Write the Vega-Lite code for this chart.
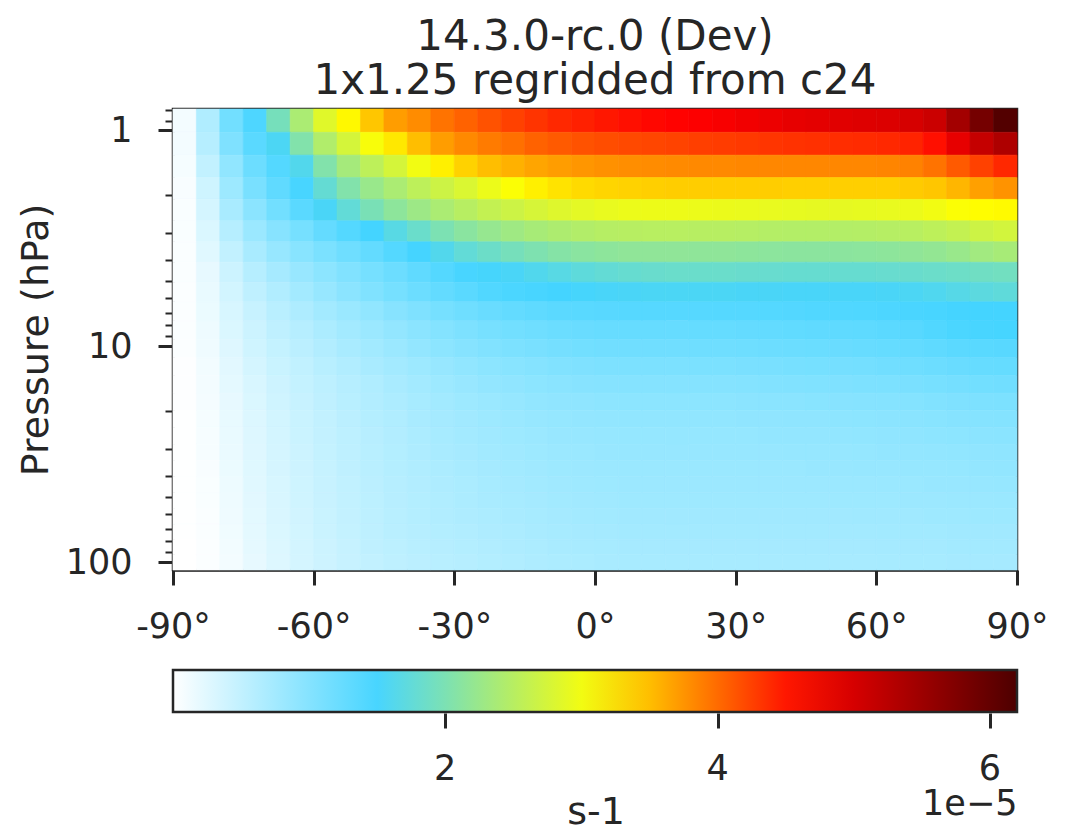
{
"$schema": "https://vega.github.io/schema/vega-lite/v6.json",
"autosize": {"type": "none"},
"padding": {"left": 173, "top": 109, "right": 51, "bottom": 263},
"width": 844,
"height": 461,
"background": "white",
"config": {
  "font": "DejaVu Sans",
  "view": {"stroke": "#262626", "strokeWidth": 2.5},
  "axis": {"labelColor": "#262626", "tickColor": "#262626", "domainColor": "#262626", "titleColor": "#262626", "labelFontSize": 35, "titleFontSize": 38, "titleFontWeight": "normal", "grid": false, "domainWidth": 2.5}
},
"title": {"text": ["14.3.0-rc.0 (Dev)", "1x1.25 regridded from c24"], "fontSize": 42, "fontWeight": "normal", "color": "#262626", "lineHeight": 44, "offset": -27, "baseline": "alphabetic", "anchor": "middle", "frame": "group"},
"datasets": {
"levels": [
{"k":1,"top":0.7951,"bottom":1.0194},{"k":2,"top":1.0194,"bottom":1.3005},{"k":3,"top":1.3005,"bottom":1.6508},{"k":4,"top":1.6508,"bottom":2.085},{"k":5,"top":2.085,"bottom":2.6202},{"k":6,"top":2.6202,"bottom":3.2764},{"k":7,"top":3.2764,"bottom":4.0766},{"k":8,"top":4.0766,"bottom":5.0468},{"k":9,"top":5.0468,"bottom":6.2168},{"k":10,"top":6.2168,"bottom":7.6198},{"k":11,"top":7.6198,"bottom":9.2929},{"k":12,"top":9.2929,"bottom":11.2769},{"k":13,"top":11.2769,"bottom":13.6434},{"k":14,"top":13.6434,"bottom":16.4571},{"k":15,"top":16.4571,"bottom":19.7916},{"k":16,"top":19.7916,"bottom":23.7304},{"k":17,"top":23.7304,"bottom":28.3678},{"k":18,"top":28.3678,"bottom":33.81},{"k":19,"top":33.81,"bottom":40.1754},{"k":20,"top":40.1754,"bottom":47.6439},{"k":21,"top":47.6439,"bottom":56.3879},{"k":22,"top":56.3879,"bottom":66.6034},{"k":23,"top":66.6034,"bottom":78.5123},{"k":24,"top":78.5123,"bottom":92.3657},{"k":25,"top":92.3657,"bottom":108.663}
],
"cells": [
{"lat":-87.5,"k":1,"v":0.1},{"lat":-82.5,"k":1,"v":0.65},{"lat":-77.5,"k":1,"v":1.15},{"lat":-72.5,"k":1,"v":1.45},{"lat":-67.5,"k":1,"v":1.95},{"lat":-62.5,"k":1,"v":2.4},{"lat":-57.5,"k":1,"v":2.85},{"lat":-52.5,"k":1,"v":3.15},{"lat":-47.5,"k":1,"v":3.45},{"lat":-42.5,"k":1,"v":3.7},{"lat":-37.5,"k":1,"v":3.8},{"lat":-32.5,"k":1,"v":3.95},{"lat":-27.5,"k":1,"v":4.05},{"lat":-22.5,"k":1,"v":4.15},{"lat":-17.5,"k":1,"v":4.25},{"lat":-12.5,"k":1,"v":4.33},{"lat":-7.5,"k":1,"v":4.4},{"lat":-2.5,"k":1,"v":4.45},{"lat":2.5,"k":1,"v":4.5},{"lat":7.5,"k":1,"v":4.55},{"lat":12.5,"k":1,"v":4.6},{"lat":17.5,"k":1,"v":4.63},{"lat":22.5,"k":1,"v":4.66},{"lat":27.5,"k":1,"v":4.7},{"lat":32.5,"k":1,"v":4.75},{"lat":37.5,"k":1,"v":4.8},{"lat":42.5,"k":1,"v":4.85},{"lat":47.5,"k":1,"v":4.88},{"lat":52.5,"k":1,"v":4.9},{"lat":57.5,"k":1,"v":4.93},{"lat":62.5,"k":1,"v":4.95},{"lat":67.5,"k":1,"v":5.0},{"lat":72.5,"k":1,"v":5.1},{"lat":77.5,"k":1,"v":5.45},{"lat":82.5,"k":1,"v":5.85},{"lat":87.5,"k":1,"v":6.15},
{"lat":-87.5,"k":2,"v":0.1},{"lat":-82.5,"k":2,"v":0.6},{"lat":-77.5,"k":2,"v":1.05},{"lat":-72.5,"k":2,"v":1.35},{"lat":-67.5,"k":2,"v":1.6},{"lat":-62.5,"k":2,"v":2.05},{"lat":-57.5,"k":2,"v":2.45},{"lat":-52.5,"k":2,"v":2.75},{"lat":-47.5,"k":2,"v":3.05},{"lat":-42.5,"k":2,"v":3.25},{"lat":-37.5,"k":2,"v":3.5},{"lat":-32.5,"k":2,"v":3.7},{"lat":-27.5,"k":2,"v":3.82},{"lat":-22.5,"k":2,"v":3.9},{"lat":-17.5,"k":2,"v":3.97},{"lat":-12.5,"k":2,"v":4.05},{"lat":-7.5,"k":2,"v":4.1},{"lat":-2.5,"k":2,"v":4.15},{"lat":2.5,"k":2,"v":4.18},{"lat":7.5,"k":2,"v":4.2},{"lat":12.5,"k":2,"v":4.22},{"lat":17.5,"k":2,"v":4.24},{"lat":22.5,"k":2,"v":4.26},{"lat":27.5,"k":2,"v":4.28},{"lat":32.5,"k":2,"v":4.3},{"lat":37.5,"k":2,"v":4.32},{"lat":42.5,"k":2,"v":4.34},{"lat":47.5,"k":2,"v":4.35},{"lat":52.5,"k":2,"v":4.37},{"lat":57.5,"k":2,"v":4.38},{"lat":62.5,"k":2,"v":4.4},{"lat":67.5,"k":2,"v":4.43},{"lat":72.5,"k":2,"v":4.55},{"lat":77.5,"k":2,"v":4.85},{"lat":82.5,"k":2,"v":5.15},{"lat":87.5,"k":2,"v":5.35},
{"lat":-87.5,"k":3,"v":0.08},{"lat":-82.5,"k":3,"v":0.5},{"lat":-77.5,"k":3,"v":0.9},{"lat":-72.5,"k":3,"v":1.2},{"lat":-67.5,"k":3,"v":1.4},{"lat":-62.5,"k":3,"v":1.65},{"lat":-57.5,"k":3,"v":2.05},{"lat":-52.5,"k":3,"v":2.35},{"lat":-47.5,"k":3,"v":2.55},{"lat":-42.5,"k":3,"v":2.75},{"lat":-37.5,"k":3,"v":3.0},{"lat":-32.5,"k":3,"v":3.2},{"lat":-27.5,"k":3,"v":3.38},{"lat":-22.5,"k":3,"v":3.5},{"lat":-17.5,"k":3,"v":3.58},{"lat":-12.5,"k":3,"v":3.65},{"lat":-7.5,"k":3,"v":3.7},{"lat":-2.5,"k":3,"v":3.74},{"lat":2.5,"k":3,"v":3.77},{"lat":7.5,"k":3,"v":3.79},{"lat":12.5,"k":3,"v":3.8},{"lat":17.5,"k":3,"v":3.81},{"lat":22.5,"k":3,"v":3.82},{"lat":27.5,"k":3,"v":3.82},{"lat":32.5,"k":3,"v":3.83},{"lat":37.5,"k":3,"v":3.83},{"lat":42.5,"k":3,"v":3.83},{"lat":47.5,"k":3,"v":3.83},{"lat":52.5,"k":3,"v":3.83},{"lat":57.5,"k":3,"v":3.83},{"lat":62.5,"k":3,"v":3.84},{"lat":67.5,"k":3,"v":3.86},{"lat":72.5,"k":3,"v":3.95},{"lat":77.5,"k":3,"v":4.1},{"lat":82.5,"k":3,"v":4.25},{"lat":87.5,"k":3,"v":4.4},
{"lat":-87.5,"k":4,"v":0.06},{"lat":-82.5,"k":4,"v":0.4},{"lat":-77.5,"k":4,"v":0.8},{"lat":-72.5,"k":4,"v":1.1},{"lat":-67.5,"k":4,"v":1.3},{"lat":-62.5,"k":4,"v":1.5},{"lat":-57.5,"k":4,"v":1.8},{"lat":-52.5,"k":4,"v":2.05},{"lat":-47.5,"k":4,"v":2.25},{"lat":-42.5,"k":4,"v":2.4},{"lat":-37.5,"k":4,"v":2.55},{"lat":-32.5,"k":4,"v":2.68},{"lat":-27.5,"k":4,"v":2.8},{"lat":-22.5,"k":4,"v":2.95},{"lat":-17.5,"k":4,"v":3.08},{"lat":-12.5,"k":4,"v":3.2},{"lat":-7.5,"k":4,"v":3.28},{"lat":-2.5,"k":4,"v":3.33},{"lat":2.5,"k":4,"v":3.36},{"lat":7.5,"k":4,"v":3.38},{"lat":12.5,"k":4,"v":3.4},{"lat":17.5,"k":4,"v":3.41},{"lat":22.5,"k":4,"v":3.41},{"lat":27.5,"k":4,"v":3.41},{"lat":32.5,"k":4,"v":3.41},{"lat":37.5,"k":4,"v":3.41},{"lat":42.5,"k":4,"v":3.4},{"lat":47.5,"k":4,"v":3.4},{"lat":52.5,"k":4,"v":3.4},{"lat":57.5,"k":4,"v":3.4},{"lat":62.5,"k":4,"v":3.4},{"lat":67.5,"k":4,"v":3.42},{"lat":72.5,"k":4,"v":3.45},{"lat":77.5,"k":4,"v":3.55},{"lat":82.5,"k":4,"v":3.68},{"lat":87.5,"k":4,"v":3.76},
{"lat":-87.5,"k":5,"v":0.05},{"lat":-82.5,"k":5,"v":0.35},{"lat":-77.5,"k":5,"v":0.7},{"lat":-72.5,"k":5,"v":0.95},{"lat":-67.5,"k":5,"v":1.15},{"lat":-62.5,"k":5,"v":1.35},{"lat":-57.5,"k":5,"v":1.58},{"lat":-52.5,"k":5,"v":1.78},{"lat":-47.5,"k":5,"v":1.98},{"lat":-42.5,"k":5,"v":2.15},{"lat":-37.5,"k":5,"v":2.28},{"lat":-32.5,"k":5,"v":2.4},{"lat":-27.5,"k":5,"v":2.5},{"lat":-22.5,"k":5,"v":2.6},{"lat":-17.5,"k":5,"v":2.68},{"lat":-12.5,"k":5,"v":2.76},{"lat":-7.5,"k":5,"v":2.83},{"lat":-2.5,"k":5,"v":2.88},{"lat":2.5,"k":5,"v":2.92},{"lat":7.5,"k":5,"v":2.95},{"lat":12.5,"k":5,"v":2.96},{"lat":17.5,"k":5,"v":2.96},{"lat":22.5,"k":5,"v":2.95},{"lat":27.5,"k":5,"v":2.94},{"lat":32.5,"k":5,"v":2.93},{"lat":37.5,"k":5,"v":2.92},{"lat":42.5,"k":5,"v":2.91},{"lat":47.5,"k":5,"v":2.9},{"lat":52.5,"k":5,"v":2.9},{"lat":57.5,"k":5,"v":2.91},{"lat":62.5,"k":5,"v":2.92},{"lat":67.5,"k":5,"v":2.95},{"lat":72.5,"k":5,"v":3.0},{"lat":77.5,"k":5,"v":3.08},{"lat":82.5,"k":5,"v":3.12},{"lat":87.5,"k":5,"v":3.14},
{"lat":-87.5,"k":6,"v":0.05},{"lat":-82.5,"k":6,"v":0.3},{"lat":-77.5,"k":6,"v":0.6},{"lat":-72.5,"k":6,"v":0.82},{"lat":-67.5,"k":6,"v":0.98},{"lat":-62.5,"k":6,"v":1.12},{"lat":-57.5,"k":6,"v":1.27},{"lat":-52.5,"k":6,"v":1.4},{"lat":-47.5,"k":6,"v":1.53},{"lat":-42.5,"k":6,"v":1.7},{"lat":-37.5,"k":6,"v":1.85},{"lat":-32.5,"k":6,"v":2.0},{"lat":-27.5,"k":6,"v":2.12},{"lat":-22.5,"k":6,"v":2.22},{"lat":-17.5,"k":6,"v":2.3},{"lat":-12.5,"k":6,"v":2.37},{"lat":-7.5,"k":6,"v":2.42},{"lat":-2.5,"k":6,"v":2.46},{"lat":2.5,"k":6,"v":2.49},{"lat":7.5,"k":6,"v":2.5},{"lat":12.5,"k":6,"v":2.51},{"lat":17.5,"k":6,"v":2.51},{"lat":22.5,"k":6,"v":2.5},{"lat":27.5,"k":6,"v":2.5},{"lat":32.5,"k":6,"v":2.49},{"lat":37.5,"k":6,"v":2.48},{"lat":42.5,"k":6,"v":2.47},{"lat":47.5,"k":6,"v":2.47},{"lat":52.5,"k":6,"v":2.47},{"lat":57.5,"k":6,"v":2.48},{"lat":62.5,"k":6,"v":2.49},{"lat":67.5,"k":6,"v":2.51},{"lat":72.5,"k":6,"v":2.55},{"lat":77.5,"k":6,"v":2.6},{"lat":82.5,"k":6,"v":2.68},{"lat":87.5,"k":6,"v":2.73},
{"lat":-87.5,"k":7,"v":0.04},{"lat":-82.5,"k":7,"v":0.25},{"lat":-77.5,"k":7,"v":0.5},{"lat":-72.5,"k":7,"v":0.7},{"lat":-67.5,"k":7,"v":0.85},{"lat":-62.5,"k":7,"v":0.97},{"lat":-57.5,"k":7,"v":1.08},{"lat":-52.5,"k":7,"v":1.18},{"lat":-47.5,"k":7,"v":1.28},{"lat":-42.5,"k":7,"v":1.4},{"lat":-37.5,"k":7,"v":1.52},{"lat":-32.5,"k":7,"v":1.65},{"lat":-27.5,"k":7,"v":1.78},{"lat":-22.5,"k":7,"v":1.87},{"lat":-17.5,"k":7,"v":1.95},{"lat":-12.5,"k":7,"v":2.02},{"lat":-7.5,"k":7,"v":2.08},{"lat":-2.5,"k":7,"v":2.12},{"lat":2.5,"k":7,"v":2.15},{"lat":7.5,"k":7,"v":2.17},{"lat":12.5,"k":7,"v":2.17},{"lat":17.5,"k":7,"v":2.17},{"lat":22.5,"k":7,"v":2.16},{"lat":27.5,"k":7,"v":2.16},{"lat":32.5,"k":7,"v":2.15},{"lat":37.5,"k":7,"v":2.14},{"lat":42.5,"k":7,"v":2.13},{"lat":47.5,"k":7,"v":2.13},{"lat":52.5,"k":7,"v":2.13},{"lat":57.5,"k":7,"v":2.14},{"lat":62.5,"k":7,"v":2.15},{"lat":67.5,"k":7,"v":2.17},{"lat":72.5,"k":7,"v":2.2},{"lat":77.5,"k":7,"v":2.25},{"lat":82.5,"k":7,"v":2.32},{"lat":87.5,"k":7,"v":2.37},
{"lat":-87.5,"k":8,"v":0.04},{"lat":-82.5,"k":8,"v":0.2},{"lat":-77.5,"k":8,"v":0.42},{"lat":-72.5,"k":8,"v":0.6},{"lat":-67.5,"k":8,"v":0.73},{"lat":-62.5,"k":8,"v":0.84},{"lat":-57.5,"k":8,"v":0.94},{"lat":-52.5,"k":8,"v":1.03},{"lat":-47.5,"k":8,"v":1.12},{"lat":-42.5,"k":8,"v":1.2},{"lat":-37.5,"k":8,"v":1.3},{"lat":-32.5,"k":8,"v":1.4},{"lat":-27.5,"k":8,"v":1.5},{"lat":-22.5,"k":8,"v":1.55},{"lat":-17.5,"k":8,"v":1.58},{"lat":-12.5,"k":8,"v":1.64},{"lat":-7.5,"k":8,"v":1.7},{"lat":-2.5,"k":8,"v":1.75},{"lat":2.5,"k":8,"v":1.79},{"lat":7.5,"k":8,"v":1.82},{"lat":12.5,"k":8,"v":1.84},{"lat":17.5,"k":8,"v":1.85},{"lat":22.5,"k":8,"v":1.85},{"lat":27.5,"k":8,"v":1.85},{"lat":32.5,"k":8,"v":1.84},{"lat":37.5,"k":8,"v":1.83},{"lat":42.5,"k":8,"v":1.82},{"lat":47.5,"k":8,"v":1.82},{"lat":52.5,"k":8,"v":1.82},{"lat":57.5,"k":8,"v":1.82},{"lat":62.5,"k":8,"v":1.83},{"lat":67.5,"k":8,"v":1.84},{"lat":72.5,"k":8,"v":1.86},{"lat":77.5,"k":8,"v":1.88},{"lat":82.5,"k":8,"v":1.9},{"lat":87.5,"k":8,"v":1.92},
{"lat":-87.5,"k":9,"v":0.03},{"lat":-82.5,"k":9,"v":0.18},{"lat":-77.5,"k":9,"v":0.37},{"lat":-72.5,"k":9,"v":0.52},{"lat":-67.5,"k":9,"v":0.64},{"lat":-62.5,"k":9,"v":0.75},{"lat":-57.5,"k":9,"v":0.85},{"lat":-52.5,"k":9,"v":0.95},{"lat":-47.5,"k":9,"v":1.04},{"lat":-42.5,"k":9,"v":1.12},{"lat":-37.5,"k":9,"v":1.2},{"lat":-32.5,"k":9,"v":1.28},{"lat":-27.5,"k":9,"v":1.35},{"lat":-22.5,"k":9,"v":1.42},{"lat":-17.5,"k":9,"v":1.47},{"lat":-12.5,"k":9,"v":1.5},{"lat":-7.5,"k":9,"v":1.53},{"lat":-2.5,"k":9,"v":1.55},{"lat":2.5,"k":9,"v":1.57},{"lat":7.5,"k":9,"v":1.58},{"lat":12.5,"k":9,"v":1.59},{"lat":17.5,"k":9,"v":1.59},{"lat":22.5,"k":9,"v":1.59},{"lat":27.5,"k":9,"v":1.59},{"lat":32.5,"k":9,"v":1.58},{"lat":37.5,"k":9,"v":1.58},{"lat":42.5,"k":9,"v":1.57},{"lat":47.5,"k":9,"v":1.57},{"lat":52.5,"k":9,"v":1.57},{"lat":57.5,"k":9,"v":1.57},{"lat":62.5,"k":9,"v":1.58},{"lat":67.5,"k":9,"v":1.6},{"lat":72.5,"k":9,"v":1.63},{"lat":77.5,"k":9,"v":1.68},{"lat":82.5,"k":9,"v":1.73},{"lat":87.5,"k":9,"v":1.76},
{"lat":-87.5,"k":10,"v":0.03},{"lat":-82.5,"k":10,"v":0.16},{"lat":-77.5,"k":10,"v":0.33},{"lat":-72.5,"k":10,"v":0.46},{"lat":-67.5,"k":10,"v":0.57},{"lat":-62.5,"k":10,"v":0.66},{"lat":-57.5,"k":10,"v":0.75},{"lat":-52.5,"k":10,"v":0.83},{"lat":-47.5,"k":10,"v":0.9},{"lat":-42.5,"k":10,"v":0.98},{"lat":-37.5,"k":10,"v":1.05},{"lat":-32.5,"k":10,"v":1.12},{"lat":-27.5,"k":10,"v":1.18},{"lat":-22.5,"k":10,"v":1.23},{"lat":-17.5,"k":10,"v":1.28},{"lat":-12.5,"k":10,"v":1.31},{"lat":-7.5,"k":10,"v":1.34},{"lat":-2.5,"k":10,"v":1.36},{"lat":2.5,"k":10,"v":1.37},{"lat":7.5,"k":10,"v":1.38},{"lat":12.5,"k":10,"v":1.38},{"lat":17.5,"k":10,"v":1.38},{"lat":22.5,"k":10,"v":1.38},{"lat":27.5,"k":10,"v":1.39},{"lat":32.5,"k":10,"v":1.39},{"lat":37.5,"k":10,"v":1.4},{"lat":42.5,"k":10,"v":1.41},{"lat":47.5,"k":10,"v":1.42},{"lat":52.5,"k":10,"v":1.43},{"lat":57.5,"k":10,"v":1.44},{"lat":62.5,"k":10,"v":1.46},{"lat":67.5,"k":10,"v":1.48},{"lat":72.5,"k":10,"v":1.5},{"lat":77.5,"k":10,"v":1.52},{"lat":82.5,"k":10,"v":1.53},{"lat":87.5,"k":10,"v":1.53},
{"lat":-87.5,"k":11,"v":0.03},{"lat":-82.5,"k":11,"v":0.14},{"lat":-77.5,"k":11,"v":0.3},{"lat":-72.5,"k":11,"v":0.42},{"lat":-67.5,"k":11,"v":0.52},{"lat":-62.5,"k":11,"v":0.6},{"lat":-57.5,"k":11,"v":0.68},{"lat":-52.5,"k":11,"v":0.75},{"lat":-47.5,"k":11,"v":0.82},{"lat":-42.5,"k":11,"v":0.88},{"lat":-37.5,"k":11,"v":0.95},{"lat":-32.5,"k":11,"v":1.01},{"lat":-27.5,"k":11,"v":1.06},{"lat":-22.5,"k":11,"v":1.11},{"lat":-17.5,"k":11,"v":1.15},{"lat":-12.5,"k":11,"v":1.18},{"lat":-7.5,"k":11,"v":1.21},{"lat":-2.5,"k":11,"v":1.23},{"lat":2.5,"k":11,"v":1.24},{"lat":7.5,"k":11,"v":1.25},{"lat":12.5,"k":11,"v":1.25},{"lat":17.5,"k":11,"v":1.25},{"lat":22.5,"k":11,"v":1.26},{"lat":27.5,"k":11,"v":1.26},{"lat":32.5,"k":11,"v":1.27},{"lat":37.5,"k":11,"v":1.28},{"lat":42.5,"k":11,"v":1.29},{"lat":47.5,"k":11,"v":1.3},{"lat":52.5,"k":11,"v":1.31},{"lat":57.5,"k":11,"v":1.32},{"lat":62.5,"k":11,"v":1.34},{"lat":67.5,"k":11,"v":1.37},{"lat":72.5,"k":11,"v":1.42},{"lat":77.5,"k":11,"v":1.47},{"lat":82.5,"k":11,"v":1.5},{"lat":87.5,"k":11,"v":1.51},
{"lat":-87.5,"k":12,"v":0.03},{"lat":-82.5,"k":12,"v":0.13},{"lat":-77.5,"k":12,"v":0.27},{"lat":-72.5,"k":12,"v":0.39},{"lat":-67.5,"k":12,"v":0.48},{"lat":-62.5,"k":12,"v":0.56},{"lat":-57.5,"k":12,"v":0.63},{"lat":-52.5,"k":12,"v":0.7},{"lat":-47.5,"k":12,"v":0.76},{"lat":-42.5,"k":12,"v":0.82},{"lat":-37.5,"k":12,"v":0.88},{"lat":-32.5,"k":12,"v":0.94},{"lat":-27.5,"k":12,"v":0.99},{"lat":-22.5,"k":12,"v":1.03},{"lat":-17.5,"k":12,"v":1.07},{"lat":-12.5,"k":12,"v":1.1},{"lat":-7.5,"k":12,"v":1.13},{"lat":-2.5,"k":12,"v":1.15},{"lat":2.5,"k":12,"v":1.16},{"lat":7.5,"k":12,"v":1.17},{"lat":12.5,"k":12,"v":1.17},{"lat":17.5,"k":12,"v":1.17},{"lat":22.5,"k":12,"v":1.18},{"lat":27.5,"k":12,"v":1.18},{"lat":32.5,"k":12,"v":1.19},{"lat":37.5,"k":12,"v":1.2},{"lat":42.5,"k":12,"v":1.21},{"lat":47.5,"k":12,"v":1.22},{"lat":52.5,"k":12,"v":1.23},{"lat":57.5,"k":12,"v":1.24},{"lat":62.5,"k":12,"v":1.26},{"lat":67.5,"k":12,"v":1.28},{"lat":72.5,"k":12,"v":1.31},{"lat":77.5,"k":12,"v":1.34},{"lat":82.5,"k":12,"v":1.36},{"lat":87.5,"k":12,"v":1.37},
{"lat":-87.5,"k":13,"v":0.02},{"lat":-82.5,"k":13,"v":0.11},{"lat":-77.5,"k":13,"v":0.24},{"lat":-72.5,"k":13,"v":0.35},{"lat":-67.5,"k":13,"v":0.44},{"lat":-62.5,"k":13,"v":0.51},{"lat":-57.5,"k":13,"v":0.58},{"lat":-52.5,"k":13,"v":0.64},{"lat":-47.5,"k":13,"v":0.7},{"lat":-42.5,"k":13,"v":0.75},{"lat":-37.5,"k":13,"v":0.8},{"lat":-32.5,"k":13,"v":0.85},{"lat":-27.5,"k":13,"v":0.9},{"lat":-22.5,"k":13,"v":0.94},{"lat":-17.5,"k":13,"v":0.97},{"lat":-12.5,"k":13,"v":1.0},{"lat":-7.5,"k":13,"v":1.03},{"lat":-2.5,"k":13,"v":1.05},{"lat":2.5,"k":13,"v":1.06},{"lat":7.5,"k":13,"v":1.07},{"lat":12.5,"k":13,"v":1.07},{"lat":17.5,"k":13,"v":1.07},{"lat":22.5,"k":13,"v":1.08},{"lat":27.5,"k":13,"v":1.08},{"lat":32.5,"k":13,"v":1.09},{"lat":37.5,"k":13,"v":1.1},{"lat":42.5,"k":13,"v":1.11},{"lat":47.5,"k":13,"v":1.12},{"lat":52.5,"k":13,"v":1.13},{"lat":57.5,"k":13,"v":1.14},{"lat":62.5,"k":13,"v":1.16},{"lat":67.5,"k":13,"v":1.18},{"lat":72.5,"k":13,"v":1.2},{"lat":77.5,"k":13,"v":1.23},{"lat":82.5,"k":13,"v":1.25},{"lat":87.5,"k":13,"v":1.26},
{"lat":-87.5,"k":14,"v":0.02},{"lat":-82.5,"k":14,"v":0.1},{"lat":-77.5,"k":14,"v":0.22},{"lat":-72.5,"k":14,"v":0.32},{"lat":-67.5,"k":14,"v":0.41},{"lat":-62.5,"k":14,"v":0.48},{"lat":-57.5,"k":14,"v":0.54},{"lat":-52.5,"k":14,"v":0.6},{"lat":-47.5,"k":14,"v":0.65},{"lat":-42.5,"k":14,"v":0.7},{"lat":-37.5,"k":14,"v":0.75},{"lat":-32.5,"k":14,"v":0.8},{"lat":-27.5,"k":14,"v":0.84},{"lat":-22.5,"k":14,"v":0.88},{"lat":-17.5,"k":14,"v":0.91},{"lat":-12.5,"k":14,"v":0.94},{"lat":-7.5,"k":14,"v":0.96},{"lat":-2.5,"k":14,"v":0.98},{"lat":2.5,"k":14,"v":0.99},{"lat":7.5,"k":14,"v":1.0},{"lat":12.5,"k":14,"v":1.0},{"lat":17.5,"k":14,"v":1.0},{"lat":22.5,"k":14,"v":1.0},{"lat":27.5,"k":14,"v":1.0},{"lat":32.5,"k":14,"v":1.01},{"lat":37.5,"k":14,"v":1.02},{"lat":42.5,"k":14,"v":1.03},{"lat":47.5,"k":14,"v":1.04},{"lat":52.5,"k":14,"v":1.05},{"lat":57.5,"k":14,"v":1.06},{"lat":62.5,"k":14,"v":1.07},{"lat":67.5,"k":14,"v":1.09},{"lat":72.5,"k":14,"v":1.11},{"lat":77.5,"k":14,"v":1.13},{"lat":82.5,"k":14,"v":1.15},{"lat":87.5,"k":14,"v":1.16},
{"lat":-87.5,"k":15,"v":0.02},{"lat":-82.5,"k":15,"v":0.09},{"lat":-77.5,"k":15,"v":0.2},{"lat":-72.5,"k":15,"v":0.3},{"lat":-67.5,"k":15,"v":0.39},{"lat":-62.5,"k":15,"v":0.46},{"lat":-57.5,"k":15,"v":0.52},{"lat":-52.5,"k":15,"v":0.58},{"lat":-47.5,"k":15,"v":0.63},{"lat":-42.5,"k":15,"v":0.67},{"lat":-37.5,"k":15,"v":0.72},{"lat":-32.5,"k":15,"v":0.76},{"lat":-27.5,"k":15,"v":0.8},{"lat":-22.5,"k":15,"v":0.83},{"lat":-17.5,"k":15,"v":0.86},{"lat":-12.5,"k":15,"v":0.89},{"lat":-7.5,"k":15,"v":0.91},{"lat":-2.5,"k":15,"v":0.92},{"lat":2.5,"k":15,"v":0.93},{"lat":7.5,"k":15,"v":0.94},{"lat":12.5,"k":15,"v":0.94},{"lat":17.5,"k":15,"v":0.94},{"lat":22.5,"k":15,"v":0.94},{"lat":27.5,"k":15,"v":0.94},{"lat":32.5,"k":15,"v":0.95},{"lat":37.5,"k":15,"v":0.96},{"lat":42.5,"k":15,"v":0.96},{"lat":47.5,"k":15,"v":0.97},{"lat":52.5,"k":15,"v":0.98},{"lat":57.5,"k":15,"v":0.99},{"lat":62.5,"k":15,"v":1.0},{"lat":67.5,"k":15,"v":1.01},{"lat":72.5,"k":15,"v":1.03},{"lat":77.5,"k":15,"v":1.05},{"lat":82.5,"k":15,"v":1.06},{"lat":87.5,"k":15,"v":1.07},
{"lat":-87.5,"k":16,"v":0.01},{"lat":-82.5,"k":16,"v":0.08},{"lat":-77.5,"k":16,"v":0.19},{"lat":-72.5,"k":16,"v":0.29},{"lat":-67.5,"k":16,"v":0.37},{"lat":-62.5,"k":16,"v":0.44},{"lat":-57.5,"k":16,"v":0.5},{"lat":-52.5,"k":16,"v":0.56},{"lat":-47.5,"k":16,"v":0.61},{"lat":-42.5,"k":16,"v":0.65},{"lat":-37.5,"k":16,"v":0.7},{"lat":-32.5,"k":16,"v":0.74},{"lat":-27.5,"k":16,"v":0.77},{"lat":-22.5,"k":16,"v":0.8},{"lat":-17.5,"k":16,"v":0.83},{"lat":-12.5,"k":16,"v":0.85},{"lat":-7.5,"k":16,"v":0.87},{"lat":-2.5,"k":16,"v":0.88},{"lat":2.5,"k":16,"v":0.89},{"lat":7.5,"k":16,"v":0.9},{"lat":12.5,"k":16,"v":0.9},{"lat":17.5,"k":16,"v":0.9},{"lat":22.5,"k":16,"v":0.9},{"lat":27.5,"k":16,"v":0.9},{"lat":32.5,"k":16,"v":0.91},{"lat":37.5,"k":16,"v":0.91},{"lat":42.5,"k":16,"v":0.92},{"lat":47.5,"k":16,"v":0.92},{"lat":52.5,"k":16,"v":0.93},{"lat":57.5,"k":16,"v":0.94},{"lat":62.5,"k":16,"v":0.95},{"lat":67.5,"k":16,"v":0.96},{"lat":72.5,"k":16,"v":0.97},{"lat":77.5,"k":16,"v":0.99},{"lat":82.5,"k":16,"v":1.0},{"lat":87.5,"k":16,"v":1.01},
{"lat":-87.5,"k":17,"v":0.01},{"lat":-82.5,"k":17,"v":0.07},{"lat":-77.5,"k":17,"v":0.18},{"lat":-72.5,"k":17,"v":0.28},{"lat":-67.5,"k":17,"v":0.36},{"lat":-62.5,"k":17,"v":0.43},{"lat":-57.5,"k":17,"v":0.49},{"lat":-52.5,"k":17,"v":0.54},{"lat":-47.5,"k":17,"v":0.59},{"lat":-42.5,"k":17,"v":0.63},{"lat":-37.5,"k":17,"v":0.68},{"lat":-32.5,"k":17,"v":0.72},{"lat":-27.5,"k":17,"v":0.75},{"lat":-22.5,"k":17,"v":0.78},{"lat":-17.5,"k":17,"v":0.8},{"lat":-12.5,"k":17,"v":0.82},{"lat":-7.5,"k":17,"v":0.84},{"lat":-2.5,"k":17,"v":0.85},{"lat":2.5,"k":17,"v":0.86},{"lat":7.5,"k":17,"v":0.87},{"lat":12.5,"k":17,"v":0.87},{"lat":17.5,"k":17,"v":0.87},{"lat":22.5,"k":17,"v":0.87},{"lat":27.5,"k":17,"v":0.87},{"lat":32.5,"k":17,"v":0.87},{"lat":37.5,"k":17,"v":0.88},{"lat":42.5,"k":17,"v":0.88},{"lat":47.5,"k":17,"v":0.88},{"lat":52.5,"k":17,"v":0.89},{"lat":57.5,"k":17,"v":0.9},{"lat":62.5,"k":17,"v":0.91},{"lat":67.5,"k":17,"v":0.92},{"lat":72.5,"k":17,"v":0.93},{"lat":77.5,"k":17,"v":0.94},{"lat":82.5,"k":17,"v":0.95},{"lat":87.5,"k":17,"v":0.96},
{"lat":-87.5,"k":18,"v":0.01},{"lat":-82.5,"k":18,"v":0.07},{"lat":-77.5,"k":18,"v":0.17},{"lat":-72.5,"k":18,"v":0.27},{"lat":-67.5,"k":18,"v":0.35},{"lat":-62.5,"k":18,"v":0.42},{"lat":-57.5,"k":18,"v":0.48},{"lat":-52.5,"k":18,"v":0.53},{"lat":-47.5,"k":18,"v":0.58},{"lat":-42.5,"k":18,"v":0.62},{"lat":-37.5,"k":18,"v":0.66},{"lat":-32.5,"k":18,"v":0.7},{"lat":-27.5,"k":18,"v":0.73},{"lat":-22.5,"k":18,"v":0.76},{"lat":-17.5,"k":18,"v":0.78},{"lat":-12.5,"k":18,"v":0.8},{"lat":-7.5,"k":18,"v":0.82},{"lat":-2.5,"k":18,"v":0.83},{"lat":2.5,"k":18,"v":0.84},{"lat":7.5,"k":18,"v":0.85},{"lat":12.5,"k":18,"v":0.85},{"lat":17.5,"k":18,"v":0.85},{"lat":22.5,"k":18,"v":0.85},{"lat":27.5,"k":18,"v":0.85},{"lat":32.5,"k":18,"v":0.85},{"lat":37.5,"k":18,"v":0.85},{"lat":42.5,"k":18,"v":0.86},{"lat":47.5,"k":18,"v":0.86},{"lat":52.5,"k":18,"v":0.86},{"lat":57.5,"k":18,"v":0.87},{"lat":62.5,"k":18,"v":0.88},{"lat":67.5,"k":18,"v":0.88},{"lat":72.5,"k":18,"v":0.89},{"lat":77.5,"k":18,"v":0.9},{"lat":82.5,"k":18,"v":0.91},{"lat":87.5,"k":18,"v":0.92},
{"lat":-87.5,"k":19,"v":0.01},{"lat":-82.5,"k":19,"v":0.06},{"lat":-77.5,"k":19,"v":0.16},{"lat":-72.5,"k":19,"v":0.26},{"lat":-67.5,"k":19,"v":0.34},{"lat":-62.5,"k":19,"v":0.41},{"lat":-57.5,"k":19,"v":0.47},{"lat":-52.5,"k":19,"v":0.52},{"lat":-47.5,"k":19,"v":0.57},{"lat":-42.5,"k":19,"v":0.61},{"lat":-37.5,"k":19,"v":0.65},{"lat":-32.5,"k":19,"v":0.68},{"lat":-27.5,"k":19,"v":0.71},{"lat":-22.5,"k":19,"v":0.74},{"lat":-17.5,"k":19,"v":0.76},{"lat":-12.5,"k":19,"v":0.78},{"lat":-7.5,"k":19,"v":0.8},{"lat":-2.5,"k":19,"v":0.81},{"lat":2.5,"k":19,"v":0.82},{"lat":7.5,"k":19,"v":0.83},{"lat":12.5,"k":19,"v":0.83},{"lat":17.5,"k":19,"v":0.83},{"lat":22.5,"k":19,"v":0.83},{"lat":27.5,"k":19,"v":0.83},{"lat":32.5,"k":19,"v":0.83},{"lat":37.5,"k":19,"v":0.83},{"lat":42.5,"k":19,"v":0.83},{"lat":47.5,"k":19,"v":0.84},{"lat":52.5,"k":19,"v":0.84},{"lat":57.5,"k":19,"v":0.85},{"lat":62.5,"k":19,"v":0.85},{"lat":67.5,"k":19,"v":0.86},{"lat":72.5,"k":19,"v":0.86},{"lat":77.5,"k":19,"v":0.87},{"lat":82.5,"k":19,"v":0.88},{"lat":87.5,"k":19,"v":0.89},
{"lat":-87.5,"k":20,"v":0.01},{"lat":-82.5,"k":20,"v":0.05},{"lat":-77.5,"k":20,"v":0.15},{"lat":-72.5,"k":20,"v":0.25},{"lat":-67.5,"k":20,"v":0.33},{"lat":-62.5,"k":20,"v":0.4},{"lat":-57.5,"k":20,"v":0.46},{"lat":-52.5,"k":20,"v":0.51},{"lat":-47.5,"k":20,"v":0.56},{"lat":-42.5,"k":20,"v":0.6},{"lat":-37.5,"k":20,"v":0.63},{"lat":-32.5,"k":20,"v":0.66},{"lat":-27.5,"k":20,"v":0.69},{"lat":-22.5,"k":20,"v":0.72},{"lat":-17.5,"k":20,"v":0.74},{"lat":-12.5,"k":20,"v":0.76},{"lat":-7.5,"k":20,"v":0.78},{"lat":-2.5,"k":20,"v":0.79},{"lat":2.5,"k":20,"v":0.8},{"lat":7.5,"k":20,"v":0.81},{"lat":12.5,"k":20,"v":0.81},{"lat":17.5,"k":20,"v":0.81},{"lat":22.5,"k":20,"v":0.81},{"lat":27.5,"k":20,"v":0.81},{"lat":32.5,"k":20,"v":0.81},{"lat":37.5,"k":20,"v":0.81},{"lat":42.5,"k":20,"v":0.81},{"lat":47.5,"k":20,"v":0.81},{"lat":52.5,"k":20,"v":0.82},{"lat":57.5,"k":20,"v":0.82},{"lat":62.5,"k":20,"v":0.83},{"lat":67.5,"k":20,"v":0.83},{"lat":72.5,"k":20,"v":0.84},{"lat":77.5,"k":20,"v":0.84},{"lat":82.5,"k":20,"v":0.85},{"lat":87.5,"k":20,"v":0.86},
{"lat":-87.5,"k":21,"v":0.01},{"lat":-82.5,"k":21,"v":0.05},{"lat":-77.5,"k":21,"v":0.14},{"lat":-72.5,"k":21,"v":0.24},{"lat":-67.5,"k":21,"v":0.32},{"lat":-62.5,"k":21,"v":0.39},{"lat":-57.5,"k":21,"v":0.45},{"lat":-52.5,"k":21,"v":0.5},{"lat":-47.5,"k":21,"v":0.55},{"lat":-42.5,"k":21,"v":0.59},{"lat":-37.5,"k":21,"v":0.62},{"lat":-32.5,"k":21,"v":0.65},{"lat":-27.5,"k":21,"v":0.68},{"lat":-22.5,"k":21,"v":0.7},{"lat":-17.5,"k":21,"v":0.72},{"lat":-12.5,"k":21,"v":0.74},{"lat":-7.5,"k":21,"v":0.76},{"lat":-2.5,"k":21,"v":0.77},{"lat":2.5,"k":21,"v":0.78},{"lat":7.5,"k":21,"v":0.79},{"lat":12.5,"k":21,"v":0.79},{"lat":17.5,"k":21,"v":0.79},{"lat":22.5,"k":21,"v":0.79},{"lat":27.5,"k":21,"v":0.79},{"lat":32.5,"k":21,"v":0.79},{"lat":37.5,"k":21,"v":0.79},{"lat":42.5,"k":21,"v":0.79},{"lat":47.5,"k":21,"v":0.79},{"lat":52.5,"k":21,"v":0.8},{"lat":57.5,"k":21,"v":0.8},{"lat":62.5,"k":21,"v":0.8},{"lat":67.5,"k":21,"v":0.81},{"lat":72.5,"k":21,"v":0.81},{"lat":77.5,"k":21,"v":0.82},{"lat":82.5,"k":21,"v":0.82},{"lat":87.5,"k":21,"v":0.83},
{"lat":-87.5,"k":22,"v":0.01},{"lat":-82.5,"k":22,"v":0.04},{"lat":-77.5,"k":22,"v":0.13},{"lat":-72.5,"k":22,"v":0.23},{"lat":-67.5,"k":22,"v":0.31},{"lat":-62.5,"k":22,"v":0.38},{"lat":-57.5,"k":22,"v":0.44},{"lat":-52.5,"k":22,"v":0.49},{"lat":-47.5,"k":22,"v":0.54},{"lat":-42.5,"k":22,"v":0.58},{"lat":-37.5,"k":22,"v":0.61},{"lat":-32.5,"k":22,"v":0.64},{"lat":-27.5,"k":22,"v":0.66},{"lat":-22.5,"k":22,"v":0.68},{"lat":-17.5,"k":22,"v":0.7},{"lat":-12.5,"k":22,"v":0.72},{"lat":-7.5,"k":22,"v":0.74},{"lat":-2.5,"k":22,"v":0.75},{"lat":2.5,"k":22,"v":0.76},{"lat":7.5,"k":22,"v":0.77},{"lat":12.5,"k":22,"v":0.77},{"lat":17.5,"k":22,"v":0.77},{"lat":22.5,"k":22,"v":0.77},{"lat":27.5,"k":22,"v":0.77},{"lat":32.5,"k":22,"v":0.77},{"lat":37.5,"k":22,"v":0.77},{"lat":42.5,"k":22,"v":0.77},{"lat":47.5,"k":22,"v":0.77},{"lat":52.5,"k":22,"v":0.77},{"lat":57.5,"k":22,"v":0.78},{"lat":62.5,"k":22,"v":0.78},{"lat":67.5,"k":22,"v":0.78},{"lat":72.5,"k":22,"v":0.79},{"lat":77.5,"k":22,"v":0.79},{"lat":82.5,"k":22,"v":0.8},{"lat":87.5,"k":22,"v":0.8},
{"lat":-87.5,"k":23,"v":0.01},{"lat":-82.5,"k":23,"v":0.04},{"lat":-77.5,"k":23,"v":0.12},{"lat":-72.5,"k":23,"v":0.22},{"lat":-67.5,"k":23,"v":0.3},{"lat":-62.5,"k":23,"v":0.37},{"lat":-57.5,"k":23,"v":0.43},{"lat":-52.5,"k":23,"v":0.48},{"lat":-47.5,"k":23,"v":0.53},{"lat":-42.5,"k":23,"v":0.57},{"lat":-37.5,"k":23,"v":0.6},{"lat":-32.5,"k":23,"v":0.62},{"lat":-27.5,"k":23,"v":0.64},{"lat":-22.5,"k":23,"v":0.66},{"lat":-17.5,"k":23,"v":0.68},{"lat":-12.5,"k":23,"v":0.7},{"lat":-7.5,"k":23,"v":0.72},{"lat":-2.5,"k":23,"v":0.73},{"lat":2.5,"k":23,"v":0.74},{"lat":7.5,"k":23,"v":0.75},{"lat":12.5,"k":23,"v":0.75},{"lat":17.5,"k":23,"v":0.75},{"lat":22.5,"k":23,"v":0.75},{"lat":27.5,"k":23,"v":0.75},{"lat":32.5,"k":23,"v":0.75},{"lat":37.5,"k":23,"v":0.75},{"lat":42.5,"k":23,"v":0.75},{"lat":47.5,"k":23,"v":0.75},{"lat":52.5,"k":23,"v":0.75},{"lat":57.5,"k":23,"v":0.75},{"lat":62.5,"k":23,"v":0.76},{"lat":67.5,"k":23,"v":0.76},{"lat":72.5,"k":23,"v":0.76},{"lat":77.5,"k":23,"v":0.77},{"lat":82.5,"k":23,"v":0.77},{"lat":87.5,"k":23,"v":0.77},
{"lat":-87.5,"k":24,"v":0},{"lat":-82.5,"k":24,"v":0.03},{"lat":-77.5,"k":24,"v":0.11},{"lat":-72.5,"k":24,"v":0.21},{"lat":-67.5,"k":24,"v":0.29},{"lat":-62.5,"k":24,"v":0.36},{"lat":-57.5,"k":24,"v":0.42},{"lat":-52.5,"k":24,"v":0.47},{"lat":-47.5,"k":24,"v":0.52},{"lat":-42.5,"k":24,"v":0.55},{"lat":-37.5,"k":24,"v":0.58},{"lat":-32.5,"k":24,"v":0.6},{"lat":-27.5,"k":24,"v":0.62},{"lat":-22.5,"k":24,"v":0.64},{"lat":-17.5,"k":24,"v":0.66},{"lat":-12.5,"k":24,"v":0.68},{"lat":-7.5,"k":24,"v":0.7},{"lat":-2.5,"k":24,"v":0.71},{"lat":2.5,"k":24,"v":0.72},{"lat":7.5,"k":24,"v":0.73},{"lat":12.5,"k":24,"v":0.73},{"lat":17.5,"k":24,"v":0.73},{"lat":22.5,"k":24,"v":0.73},{"lat":27.5,"k":24,"v":0.73},{"lat":32.5,"k":24,"v":0.73},{"lat":37.5,"k":24,"v":0.73},{"lat":42.5,"k":24,"v":0.73},{"lat":47.5,"k":24,"v":0.73},{"lat":52.5,"k":24,"v":0.73},{"lat":57.5,"k":24,"v":0.73},{"lat":62.5,"k":24,"v":0.74},{"lat":67.5,"k":24,"v":0.74},{"lat":72.5,"k":24,"v":0.74},{"lat":77.5,"k":24,"v":0.75},{"lat":82.5,"k":24,"v":0.75},{"lat":87.5,"k":24,"v":0.75},
{"lat":-87.5,"k":25,"v":0},{"lat":-82.5,"k":25,"v":0.03},{"lat":-77.5,"k":25,"v":0.1},{"lat":-72.5,"k":25,"v":0.2},{"lat":-67.5,"k":25,"v":0.28},{"lat":-62.5,"k":25,"v":0.35},{"lat":-57.5,"k":25,"v":0.41},{"lat":-52.5,"k":25,"v":0.46},{"lat":-47.5,"k":25,"v":0.5},{"lat":-42.5,"k":25,"v":0.53},{"lat":-37.5,"k":25,"v":0.56},{"lat":-32.5,"k":25,"v":0.58},{"lat":-27.5,"k":25,"v":0.6},{"lat":-22.5,"k":25,"v":0.62},{"lat":-17.5,"k":25,"v":0.64},{"lat":-12.5,"k":25,"v":0.66},{"lat":-7.5,"k":25,"v":0.68},{"lat":-2.5,"k":25,"v":0.69},{"lat":2.5,"k":25,"v":0.7},{"lat":7.5,"k":25,"v":0.71},{"lat":12.5,"k":25,"v":0.71},{"lat":17.5,"k":25,"v":0.71},{"lat":22.5,"k":25,"v":0.71},{"lat":27.5,"k":25,"v":0.71},{"lat":32.5,"k":25,"v":0.71},{"lat":37.5,"k":25,"v":0.71},{"lat":42.5,"k":25,"v":0.71},{"lat":47.5,"k":25,"v":0.71},{"lat":52.5,"k":25,"v":0.71},{"lat":57.5,"k":25,"v":0.71},{"lat":62.5,"k":25,"v":0.72},{"lat":67.5,"k":25,"v":0.72},{"lat":72.5,"k":25,"v":0.72},{"lat":77.5,"k":25,"v":0.73},{"lat":82.5,"k":25,"v":0.73},{"lat":87.5,"k":25,"v":0.73}
]
},
"resolve": {"scale": {"x": "independent"}, "axis": {"x": "independent", "y": "independent"}},
"layer": [
  {
    "data": {"name": "cells"},
    "transform": [{"lookup": "k", "from": {"data": {"name": "levels"}, "key": "k", "fields": ["top", "bottom"]}}],
    "mark": {"type": "rect", "width": 23.6, "strokeWidth": 0.6, "stroke": {"expr": "scale('color', datum.v)"}},
    "encoding": {
      "x": {"field": "lat", "type": "quantitative", "scale": {"domain": [-90, 90], "nice": false, "zero": false},
        "axis": {"values": [-90, -60, -30, 0, 30, 60, 90], "labelExpr": "datum.value + '°'", "tickSize": 15, "tickWidth": 3, "labelPadding": 24, "labelFlush": false, "labelOverlap": false,
          "title": "1e−5", "titleX": 844, "titleY": 233, "titleAlign": "right", "titleBaseline": "middle", "titleFontSize": 35}},
      "y": {"field": "top", "type": "quantitative", "scale": {"type": "log", "domain": [0.7951, 108.663], "reverse": true, "nice": false},
        "axis": {"values": [1, 10, 100], "format": "d", "tickSize": 15, "tickWidth": 3, "labelPadding": 26, "title": "Pressure (hPa)", "titlePadding": 10}},
      "y2": {"field": "bottom"},
      "color": {"field": "v", "type": "quantitative",
        "scale": {"domain": [0, 1.53, 3.11, 4.64, 6.2], "range": ["#ffffff", "#44d4ff", "#ffff00", "#ff0000", "#4d0000"], "interpolate": "rgb"},
        "legend": {"orient": "none", "legendX": 0, "legendY": 561, "direction": "horizontal", "gradientLength": 844, "gradientThickness": 42,
          "gradientStrokeColor": "#262626", "gradientStrokeWidth": 2.5, "values": [2, 4, 6], "labelExpr": "format(datum.value, 'd')",
          "labelFontSize": 35, "labelColor": "#262626", "labelOffset": 40, "padding": 0,
          "title": "s-1", "titleOrient": "bottom", "titleAnchor": "middle", "titleFontSize": 38, "titleFontWeight": "normal", "titleColor": "#262626", "titlePadding": 7}}
    }
  },
  {
    "data": {"values": [{}]},
    "mark": {"type": "rule", "opacity": 0},
    "encoding": {
      "x": {"datum": 2, "type": "quantitative", "scale": {"domain": [0, 6.2], "nice": false, "zero": false},
        "axis": {"orient": "bottom", "offset": 143, "values": [2, 4, 6], "labels": false, "domain": false, "tickSize": 15, "tickWidth": 3, "title": null}},
      "y": {"datum": 1, "type": "quantitative",
        "axis": {"orient": "left", "values": [0.8, 0.9, 2, 3, 4, 5, 6, 7, 8, 9, 20, 30, 40, 50, 60, 70, 80, 90], "labels": false, "tickSize": 8, "tickWidth": 2, "domain": false, "title": null}}
    }
  }
]
}
